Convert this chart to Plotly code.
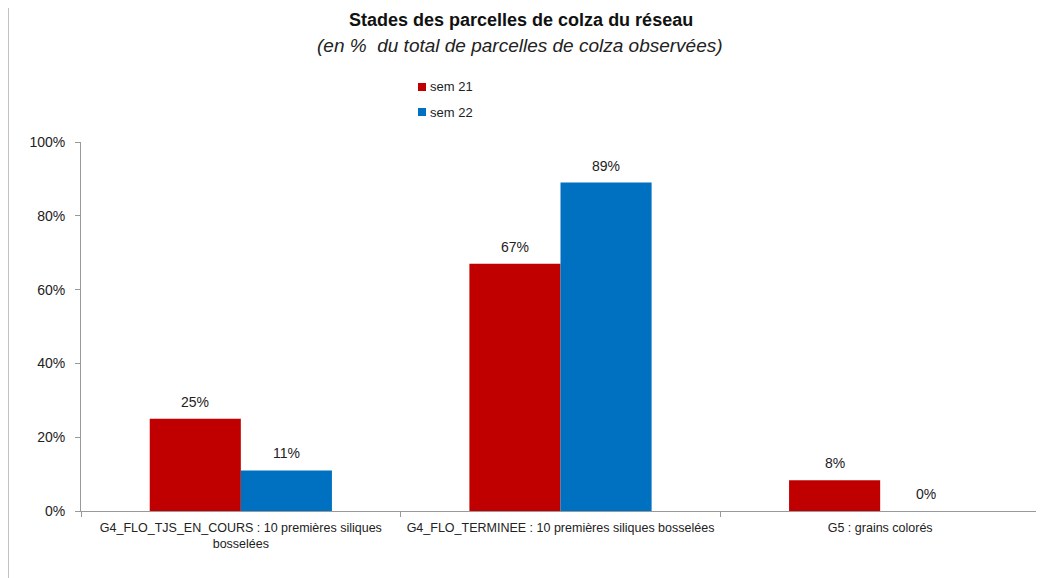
import plotly.graph_objects as go

categories = ["G4_FLO_TJS_EN_COURS : 10 premières siliques<br>bosselées",
              "G4_FLO_TERMINEE : 10 premières siliques bosselées",
              "G5 : grains colorés"]
series_names = ["sem 21", "sem 22"]
sem21 = [0.25, 0.67, 0.083]
sem22 = [0.11, 0.89, 0.0]
colors = ["#C00000", "#0070C0"]
ytick_vals = [0, 0.2, 0.4, 0.6, 0.8, 1.0]
ytick_text = ["0%", "20%", "40%", "60%", "80%", "100%"]

# page body has an 8px default margin; compensate
OFF = 8
W, H = 1044 - OFF, 578 - OFF
L, R, T, B = 81 - OFF, 4, 142 - OFF, 67
PW, PH = W - L - R, H - T - B

def px(x):  # x in screen pixels
    return (x - OFF - L) / PW

def py(y):  # y in screen pixels
    return (H + OFF - B - y) / PH

fig = go.Figure()
for i, (name, vals, col) in enumerate(zip(series_names, [sem21, sem22], colors)):
    fig.add_trace(go.Bar(
        x=categories, y=vals, name=name, marker_color=col, marker_line_width=0,
        offsetgroup=str(i), showlegend=False,
    ))
    for j, (c, v) in enumerate(zip(categories, vals)):
        fig.add_annotation(x=j + (-0.1425 if i == 0 else 0.1425), y=v, xref="x", yref="y",
                           text=f"{round(v*100):.0f}%", showarrow=False,
                           yanchor="bottom", yshift=7,
                           font=dict(family="Liberation Sans, Arial", size=14, color="#222"))

fig.update_layout(
    width=W, height=H, margin=dict(l=L, r=R, t=T, b=B, autoexpand=False),
    paper_bgcolor="white", plot_bgcolor="white",
    barmode="group", bargap=0.43, bargroupgap=0,
    font=dict(family="Liberation Sans, Arial", color="#222"),
    showlegend=False,
)
fig.update_xaxes(showline=True, linecolor="#999", ticks="outside", tickson="boundaries",
                 tickcolor="#999", ticklen=5, showgrid=False, automargin=False, ticklabelstandoff=5,
                 tickfont=dict(family="Liberation Sans Narrow, Liberation Sans, Arial", size=12.5, color="#222"))
fig.update_yaxes(range=[0, 1.0], tickvals=ytick_vals, ticktext=ytick_text,
                 showline=True, linecolor="#999", ticks="outside", tickcolor="#999", ticklen=5,
                 showgrid=False, zeroline=False, automargin=False, ticklabelstandoff=7,
                 tickfont=dict(family="Liberation Sans, Arial", size=14, color="#222"))

for k, (name, col) in enumerate(zip(series_names, colors)):
    yc = 87 + 25 * k
    fig.add_shape(type="rect", xref="paper", yref="paper",
                  x0=px(418), x1=px(426), y0=py(yc + 4), y1=py(yc - 4),
                  fillcolor=col, line=dict(width=0))
    fig.add_annotation(text=name, xref="paper", yref="paper", x=px(428), y=py(yc),
                       xanchor="left", yanchor="middle", showarrow=False,
                       font=dict(family="Liberation Sans, Arial", size=13, color="#222"))

fig.add_annotation(text="<b>Stades des parcelles de colza du réseau</b>", xref="paper", yref="paper",
                   x=px(521), y=py(20), xanchor="center", yanchor="middle",
                   showarrow=False, font=dict(family="Liberation Sans Narrow, Liberation Sans, Arial", size=18, color="#111"))
fig.add_annotation(text="<i>(en %  du total de parcelles de colza observées)</i>", xref="paper", yref="paper",
                   x=px(520), y=py(45), xanchor="center", yanchor="middle",
                   showarrow=False, font=dict(family="Liberation Sans, Arial", size=19, color="#222"))
fig.add_shape(type="line", xref="paper", yref="paper",
              x0=px(8), x1=px(8), y0=py(578), y1=py(8),
              line=dict(color="#888", width=1))

fig.write_html("out.html")
